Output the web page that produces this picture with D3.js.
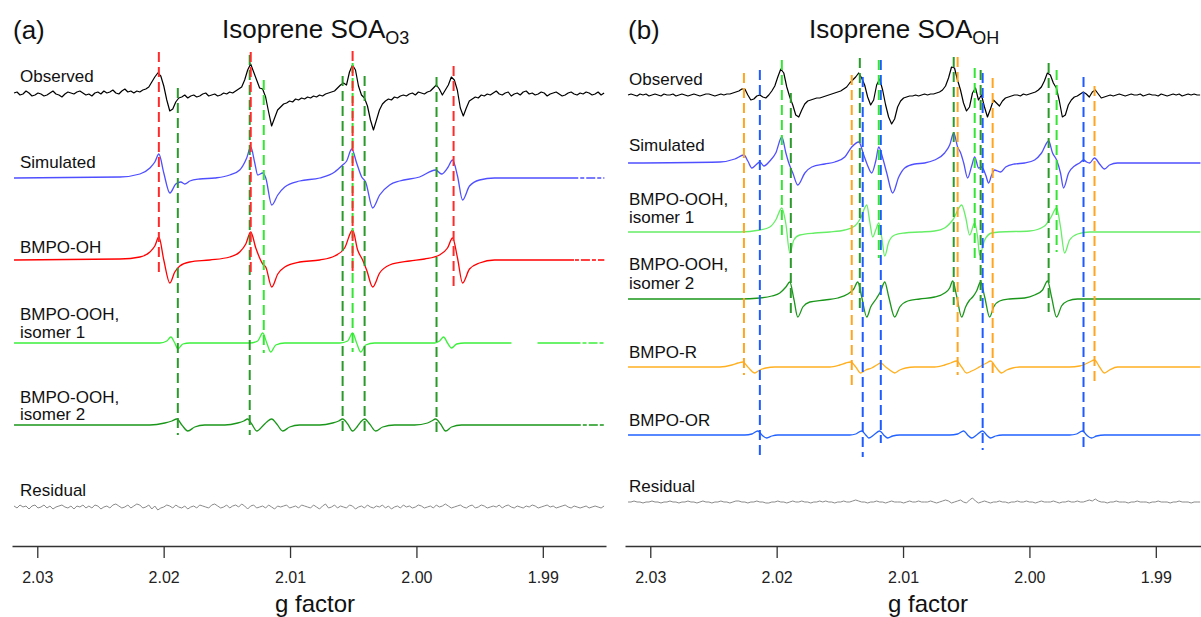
<!DOCTYPE html>
<html lang="en">
<head>
<meta charset="utf-8">
<title>Isoprene SOA EPR spectra</title>
<style>
  body { margin: 0; background: #fff; }
  svg text { font-family: "Liberation Sans", Arial, sans-serif; fill: #111; }
  .axis path, .axis line { stroke: #333; stroke-width: 1.3; }
  .axis text { font-size: 16px; fill: #222; }
  .trace-label { font-size: 17px; }
  .tag, .title { font-size: 26px; }
  .xlabel { font-size: 24px; }
</style>
</head>
<body>
<svg id="chart" width="1201" height="617"></svg>
<script src="https://cdnjs.cloudflare.com/ajax/libs/d3/7.8.5/d3.min.js"></script>
<script>
// ---------- data (g factor, intensity in a.u.) ----------
var gTicks = [2.03, 2.02, 2.01, 2.00, 1.99];
var gSpan = [2.032, 1.985];
var sampleStep = -0.000237;   // g step of the recorded spectra

// panel (a): recorded spectrum and residual, uniformly sampled from g0
var obsA_g0 = 2.03184;
var obsA = [
  1,2,-1,0,3,1,-2,-1,1,0,
  -2,-1,1,3,0,-1,-3,0,2,1,
  0,2,3,1,-1,0,-2,1,2,0,
  3,1,2,4,1,0,3,5,2,3,
  1,3,2,4,5,7,12,17,21,18,
  8,-6,-17,-15,-8,-4,-3,-1,-4,-2,
  -1,-3,-2,0,1,-2,-1,0,-2,-1,
  1,0,2,1,3,5,7,14,24,30,
  22,14,6,5,-3,-18,-32,-24,-16,-13,
  -10,-9,-7,-8,-5,-6,-4,-5,-3,-4,
  -2,-3,-1,-2,0,1,2,3,6,9,
  11,9,22,29,24,8,-1,-4,-12,-26,
  -36,-26,-16,-10,-7,-5,-6,-3,-4,-2,
  -1,-2,0,1,-1,2,1,0,2,3,
  6,9,5,-1,4,9,17,14,4,-14,
  -22,-14,-7,-5,-3,-4,-1,-2,0,-1,
  1,3,0,-1,1,2,-2,0,1,-1,
  2,3,0,1,-1,0,2,1,-2,0,
  1,2,0,-2,-1,1,2,0,-1,1,
  0,2,1,-1,0,2,-1,1
];
var resA = [
  1,-1,2,0,1,-2,1,2,-1,0,
  2,-1,1,-2,0,1,2,0,-1,1,
  -2,1,0,2,-1,1,-1,2,1,-2,
  0,1,-1,2,3,1,-1,0,2,-1,
  1,3,2,-1,0,2,-2,1,-3,-1,
  0,2,1,-1,2,0,-1,1,-2,0,
  1,-1,2,1,0,-1,2,3,1,-1,
  0,2,-1,1,2,0,3,1,-2,1,
  2,-1,0,1,-1,2,0,-2,1,0,
  1,2,-1,0,1,-1,2,1,0,-1,
  2,0,-2,1,3,-1,0,2,-1,1,
  0,-1,2,1,-2,0,1,-1,2,0,
  -1,1,0,2,-1,1,-2,0,1,-1,
  2,0,1,-1,0,2,1,-1,0,1,
  -1,2,0,1,3,1,-1,0,1,2,
  0,-1,1,2,-1,0,2,1,-1,0,
  1,0,2,-1,1,2,0,-1,1,0,
  -1,1,0,2,1,-1,0,1,2,0,
  1,-1,0,1,2,0,-1,1,0,-1,
  0,1,-1,0,1,0,-1,1
];

// panel (a): simulated spectrum and its components, [g, intensity]
var simA = [[2.03184,0],[2.02346,1],[2.02188,4],[2.02109,10],[2.02070,16],[2.02038,24],[2.01999,5],[2.01951,-15],[2.01904,-6],[2.01864,-4],[2.01833,-6],[2.01793,-3],[2.01714,-1],[2.01595,0],[2.01477,3],[2.01398,8],[2.01343,20],[2.01311,31],[2.01279,15],[2.01256,3],[2.01216,5],[2.01192,0],[2.01145,-27],[2.01097,-17],[2.01042,-9],[2.00924,-3],[2.00765,0],[2.00647,6],[2.00584,13],[2.00552,17],[2.00512,29],[2.00473,15],[2.00433,1],[2.00402,-4],[2.00346,-30],[2.00291,-17],[2.00212,-7],[2.00133,-3],[1.99975,1],[1.99848,8],[1.99801,4],[1.99754,10],[1.99714,18],[1.99675,2],[1.99635,-22],[1.99580,-8],[1.99501,-2],[1.99382,0],[1.98513,0]];
var ohA = [[2.03184,0],[2.02346,1],[2.02188,3],[2.02109,8],[2.02070,14],[2.02038,23],[2.01999,0],[2.01951,-23],[2.01912,-12],[2.01872,-6],[2.01793,-2],[2.01635,0],[2.01477,3],[2.01398,8],[2.01350,16],[2.01311,28],[2.01271,12],[2.01216,-4],[2.01192,-7],[2.01145,-27],[2.01097,-14],[2.01042,-7],[2.00924,-2],[2.00765,0],[2.00647,4],[2.00568,12],[2.00505,30],[2.00465,10],[2.00426,0],[2.00394,-10],[2.00346,-27],[2.00291,-13],[2.00212,-5],[2.00054,-1],[1.99935,1],[1.99817,5],[1.99754,12],[1.99714,22],[1.99675,2],[1.99635,-23],[1.99580,-9],[1.99501,-3],[1.99382,0],[1.98513,0]];
var ooh1A = [[2.03184,0],[2.02030,0],[2.01975,2],[2.01943,6],[2.01912,0],[2.01888,-6],[2.01848,-1],[2.01793,0],[2.01319,0],[2.01256,2],[2.01216,10],[2.01184,0],[2.01153,-9],[2.01113,-2],[2.01042,0],[2.00607,0],[2.00544,2],[2.00505,10],[2.00473,0],[2.00441,-9],[2.00402,-2],[2.00331,0],[1.99856,0],[1.99817,2],[1.99785,6],[1.99754,0],[1.99722,-5],[1.99682,-1],[1.99619,0],[1.99248,0],[1.99150,0],[1.99042,0],[1.98513,0]];
var ooh2A = [[2.03184,0],[2.02109,0],[2.01991,2],[2.01935,4],[2.01896,6],[2.01856,0],[2.01809,-6],[2.01754,-2],[2.01675,0],[2.01516,0],[2.01414,2],[2.01366,4],[2.01335,6],[2.01303,1],[2.01263,-6],[2.01216,-1],[2.01184,3],[2.01145,6],[2.01105,1],[2.01058,-6],[2.01003,-2],[2.00924,0],[2.00765,0],[2.00663,2],[2.00615,4],[2.00584,6],[2.00544,1],[2.00505,-6],[2.00465,-1],[2.00441,3],[2.00410,6],[2.00370,1],[2.00323,-6],[2.00267,-2],[2.00173,0],[2.00014,0],[1.99912,2],[1.99880,4],[1.99848,6],[1.99809,1],[1.99769,-6],[1.99722,-2],[1.99643,0],[1.98513,0]];

// panel (a): line positions marked by dashes [g, species]
var markersA = [
  [2.01888,"OOH2"],[2.01319,"OOH2"],[2.00584,"OOH2"],[2.00410,"OOH2"],[1.99841,"OOH2"],
  [2.01208,"OOH1"],[2.00505,"OOH1"],
  [2.02038,"OH"],[2.01311,"OH"],[2.00505,"OH"],[1.99706,"OH"]
];

// panel (b)
var obsB_g0 = 2.03176;
var obsB = [
  0,1,0,-1,1,0,1,-1,0,1,
  0,-1,1,0,0,1,-1,0,1,0,
  -1,0,1,0,-1,0,1,1,0,-1,
  0,1,0,1,1,2,3,4,6,6,
  0,-5,-4,-1,0,-2,-3,0,4,9,
  18,26,22,8,-2,-10,-20,-22,-15,-9,
  -6,-5,-4,-3,-3,-2,-1,0,1,2,
  3,4,6,8,12,15,18,22,17,10,
  -2,-10,-5,10,16,5,-10,-22,-29,-24,
  -12,-6,-3,-2,-1,-1,0,-1,0,1,
  0,1,1,2,3,5,9,17,28,27,
  15,5,-8,-16,-12,2,7,-5,0,-12,
  -22,-14,-5,-8,-11,-6,-3,-2,-1,0,
  0,-1,1,0,1,2,3,5,8,14,
  22,20,12,7,-6,-22,-20,-10,-5,-2,
  -1,1,3,1,-2,3,5,1,-3,-2,
  -1,0,-1,0,1,0,-1,0,1,0,
  0,1,-1,0,1,0,0,-1,1,0,
  -1,0,1,0,1,-1,0,1,0,1,
  0,0
];
var resB = [
  0,0,1,0,0,-1,0,0,1,0,
  0,-1,0,0,1,0,0,-1,0,0,
  1,0,0,-1,0,1,0,0,-1,0,
  0,1,0,0,-1,0,1,1,0,0,
  -1,0,0,1,0,0,-1,-1,0,0,
  1,0,0,-1,0,1,0,0,1,0,
  0,-1,0,0,1,0,1,0,0,-1,
  0,0,1,0,0,1,2,1,0,0,
  -1,0,0,1,0,0,-1,0,1,0,
  0,0,-1,0,1,0,0,1,0,0,
  0,1,0,-1,0,1,2,1,-1,0,
  1,2,0,-1,2,4,1,-1,0,1,
  0,-1,0,0,1,0,0,-1,0,0,
  1,0,0,1,0,0,-1,0,1,0,
  0,0,1,0,-1,0,0,1,0,0,
  1,0,0,1,2,1,3,1,0,0,
  -1,0,0,1,0,0,0,-1,0,0,
  1,0,0,0,-1,0,0,1,0,0,
  0,-1,0,0,1,0,0,0,-1,0,
  0,0
];
var simB = [[2.03176,0],[2.02449,1],[2.02331,4],[2.02259,8],[2.02228,2],[2.02196,-5],[2.02165,-2],[2.02133,1],[2.02101,-3],[2.02054,2],[2.02007,10],[2.01959,26],[2.01927,10],[2.01904,0],[2.01872,-10],[2.01833,-22],[2.01777,-10],[2.01722,-4],[2.01619,-1],[2.01540,1],[2.01461,6],[2.01406,16],[2.01350,21],[2.01311,8],[2.01279,-3],[2.01248,-10],[2.01216,2],[2.01192,16],[2.01161,5],[2.01129,-10],[2.01082,-30],[2.01034,-14],[2.00987,-5],[2.00908,-1],[2.00829,0],[2.00750,3],[2.00671,10],[2.00631,18],[2.00599,30],[2.00568,16],[2.00544,10],[2.00520,0],[2.00489,-15],[2.00457,-3],[2.00433,6],[2.00402,-5],[2.00378,-4],[2.00346,-12],[2.00323,-20],[2.00299,-12],[2.00275,-7],[2.00252,-8],[2.00228,-9],[2.00188,-4],[2.00117,-1],[2.00038,0],[1.99959,3],[1.99904,10],[1.99848,22],[1.99817,10],[1.99785,3],[1.99754,-10],[1.99730,-25],[1.99690,-10],[1.99643,-3],[1.99603,0],[1.99572,3],[1.99548,1],[1.99524,0],[1.99485,5],[1.99445,-1],[1.99406,-6],[1.99366,-2],[1.99303,0],[1.98647,0]];
var ooh1B = [[2.03176,0],[2.02291,0],[2.02133,2],[2.02054,5],[2.02007,12],[2.01959,24],[2.01927,8],[2.01896,-21],[2.01864,-8],[2.01817,-3],[2.01698,-1],[2.01580,0],[2.01461,2],[2.01382,6],[2.01335,14],[2.01287,27],[2.01263,10],[2.01240,-5],[2.01216,2],[2.01192,9],[2.01169,-5],[2.01145,-24],[2.01113,-10],[2.01066,-3],[2.00987,-1],[2.00868,0],[2.00750,1],[2.00671,4],[2.00607,12],[2.00536,27],[2.00505,15],[2.00473,-3],[2.00433,9],[2.00410,-5],[2.00394,-23],[2.00354,-8],[2.00299,-1],[2.00236,0],[1.99999,1],[1.99880,6],[1.99833,14],[1.99785,24],[1.99754,5],[1.99722,-21],[1.99682,-8],[1.99619,-2],[1.99524,0],[1.98647,0]];
var ooh2B = [[2.03176,0],[2.02291,0],[2.02133,1],[2.02038,3],[2.01975,6],[2.01927,12],[2.01896,17],[2.01864,0],[2.01833,-18],[2.01793,-8],[2.01738,-3],[2.01619,-1],[2.01516,1],[2.01437,5],[2.01390,10],[2.01358,17],[2.01327,2],[2.01287,-18],[2.01256,-8],[2.01208,1],[2.01176,8],[2.01145,17],[2.01113,2],[2.01066,-18],[2.01026,-8],[2.00963,-2],[2.00868,0],[2.00750,2],[2.00671,6],[2.00631,11],[2.00607,18],[2.00576,3],[2.00536,-18],[2.00505,-8],[2.00473,-1],[2.00449,2],[2.00418,8],[2.00386,17],[2.00354,2],[2.00315,-18],[2.00283,-8],[2.00236,-2],[2.00157,0],[2.00038,1],[1.99959,4],[1.99896,9],[1.99856,18],[1.99825,2],[1.99785,-18],[1.99746,-7],[1.99698,-2],[1.99619,0],[1.98647,0]];
var rB = [[2.03176,0],[2.02449,0],[2.02354,2],[2.02307,4],[2.02267,5],[2.02228,0],[2.02172,-6],[2.02133,-3],[2.02086,-1],[2.02014,0],[2.01580,0],[2.01501,2],[2.01453,4],[2.01414,5],[2.01374,0],[2.01335,-6],[2.01295,-3],[2.01248,-1],[2.01208,2],[2.01176,4],[2.01137,0],[2.01105,-3],[2.01066,-6],[2.01026,-3],[2.00979,-1],[2.00908,0],[2.00750,0],[2.00671,2],[2.00623,4],[2.00576,6],[2.00536,0],[2.00497,-6],[2.00457,-4],[2.00410,-1],[2.00370,2],[2.00339,4],[2.00307,6],[2.00267,0],[2.00220,-6],[2.00180,-3],[2.00133,-1],[2.00078,0],[1.99682,0],[1.99603,1],[1.99572,2],[1.99524,5],[1.99485,7],[1.99445,0],[1.99406,-6],[1.99366,-3],[1.99303,0],[1.98647,0]];
var orB = [[2.03176,0],[2.02252,0],[2.02196,1],[2.02149,4],[2.02117,0],[2.02078,-3],[2.02038,-1],[2.01991,0],[2.01422,0],[2.01374,1],[2.01327,4],[2.01295,0],[2.01271,-3],[2.01232,0],[2.01184,4],[2.01153,0],[2.01121,-3],[2.01082,-1],[2.01026,0],[2.00631,0],[2.00568,1],[2.00520,4],[2.00489,0],[2.00457,-3],[2.00418,0],[2.00370,4],[2.00339,0],[2.00307,-3],[2.00267,-1],[2.00212,0],[1.99682,0],[1.99627,1],[1.99580,4],[1.99548,0],[1.99509,-3],[1.99469,-1],[1.99406,0],[1.98647,0]];

var markersB = [
  [2.02259,"R"],[2.01406,"R"],[2.00568,"R"],[2.00291,"R"],[1.99485,"R"],
  [2.02133,"OR"],[2.01319,"OR"],[2.01176,"OR"],[2.00370,"OR"],[1.99572,"OR"],
  [2.01888,"OOH2"],[2.01342,"OOH2"],[2.00599,"OOH2"],[2.00386,"OOH2"],[1.99848,"OOH2"],
  [2.01959,"OOH1"],[2.01192,"OOH1"],[2.00433,"OOH1"],[1.99785,"OOH1"]
];

// ---------- layout ----------
// how far each dashed marker reaches: [top trace, level, bottom trace, level]
var spansA = [
  [0,6,4,-10],[0,39,4,-10],[0,18,4,-8],[0,18,4,-8],[0,17,4,-8],
  [0,14,3,-10],[0,31,3,-9],
  [0,42,2,-15],[0,42,2,-15],[0,43,2,-15],[0,28,2,-29]
];
var spansB = [
  [0,22,4,-8],[0,20,4,-21],[0,38,4,-8],[0,17,4,-10],[0,9,4,-16],
  [0,25,5,-23],[0,18,5,-22],[0,35,5,-8],[0,22,5,-15],[0,18,5,-17],
  [0,2,3,-16],[0,37,3,-11],[0,38,3,-6],[0,25,3,-2],[0,32,3,-13],
  [0,35,2,-4],[0,35,2,-26],[0,27,2,-26],[0,25,2,-20]
];
var dashColor = { OH: "#ff2b2b", OOH1: "#33e633", OOH2: "#2a9a2a", R: "#ffa51f", OR: "#1f5cff" };

var svg = d3.select("#chart");
var axisY = 546;
var yI = d3.scaleLinear().domain([0, 10]).range([0, -10]);

// the right end of the panel (a) fits fades into a broken line
var defs = svg.append("defs");
defs.append("clipPath").attr("id", "solidA").append("rect")
  .attr("x", 0).attr("y", 0).attr("width", 574).attr("height", 617);
defs.append("clipPath").attr("id", "tailA").append("rect")
  .attr("x", 574).attr("y", 0).attr("width", 40).attr("height", 617);

function sampled(g0, vals) {
  return vals.map(function(v, i) { return [g0 + i * sampleStep, v]; });
}

var panels = [
  {
    x: d3.scaleLinear().domain(gSpan).range([12, 606]),
    tag: "(a)", tagX: 13, titleX: 222, sub: "O3", labelX: 20, xlabelX: 315,
    markers: markersA, spans: spansA,
    traces: [
      { name: ["Observed"], ly: [82], base: 94, data: sampled(obsA_g0, obsA), color: "#000", w: 1.2, raw: true },
      { name: ["Simulated"], ly: [168], base: 178, data: simA, color: "#4f4fff", tail: true },
      { name: ["BMPO-OH"], ly: [253], base: 260, data: ohA, color: "#ff0000", tail: true },
      { name: ["BMPO-OOH,", "isomer 1"], ly: [320, 338], base: 343, data: ooh1A, color: "#3cf03c", gap: [1.99248, 1.99042], tail: true },
      { name: ["BMPO-OOH,", "isomer 2"], ly: [403, 420], base: 425, data: ooh2A, color: "#1a961a", tail: true },
      { name: ["Residual"], ly: [496], base: 507, data: sampled(obsA_g0, resA), color: "#8a8a8a", w: 1, raw: true }
    ]
  },
  {
    x: d3.scaleLinear().domain(gSpan).range([625, 1219]),
    tag: "(b)", tagX: 628, titleX: 809, sub: "OH", labelX: 629, xlabelX: 928,
    markers: markersB, spans: spansB,
    traces: [
      { name: ["Observed"], ly: [85], base: 95, data: sampled(obsB_g0, obsB), color: "#000", w: 1.2, raw: true },
      { name: ["Simulated"], ly: [151], base: 163, data: simB, color: "#4f4fff" },
      { name: ["BMPO-OOH,", "isomer 1"], ly: [205, 223], base: 232, data: ooh1B, color: "#66ee66" },
      { name: ["BMPO-OOH,", "isomer 2"], ly: [270, 289], base: 299, data: ooh2B, color: "#1a961a" },
      { name: ["BMPO-R"], ly: [358], base: 367, data: rB, color: "#ffb020" },
      { name: ["BMPO-OR"], ly: [426], base: 435, data: orB, color: "#2262ff" },
      { name: ["Residual"], ly: [492], base: 502, data: sampled(obsB_g0, resB), color: "#8a8a8a", w: 1, raw: true }
    ]
  }
];

panels.forEach(function(p) {
  var g = svg.append("g");

  g.append("text").attr("class", "tag").attr("x", p.tagX).attr("y", 39).text(p.tag);
  var title = g.append("text").attr("class", "title").attr("x", p.titleX).attr("y", 38);
  title.append("tspan").text("Isoprene SOA");
  title.append("tspan").attr("dy", 6).style("font-size", "18px").text(p.sub);

  g.append("g")
    .attr("class", "axis")
    .attr("transform", "translate(0," + axisY + ")")
    .call(d3.axisBottom(p.x).tickValues(gTicks).tickFormat(d3.format(".2f"))
      .tickSize(12).tickSizeOuter(0).tickPadding(14));

  g.append("text").attr("class", "xlabel")
    .attr("x", p.xlabelX).attr("y", 612)
    .style("text-anchor", "middle")
    .text("g factor");

  p.traces.forEach(function(t) {
    var line = d3.line()
      .x(function(d) { return p.x(d[0]); })
      .y(function(d) { return t.base + yI(d[1]); })
      .curve(t.raw ? d3.curveLinear : d3.curveMonotoneX);
    if (t.gap) line.defined(function(d) { return !(d[0] < t.gap[0] && d[0] > t.gap[1]); });

    var path = g.append("path")
      .datum(t.data)
      .attr("d", line)
      .attr("fill", "none")
      .attr("stroke", t.color)
      .attr("stroke-width", t.w || 1.3)
      .attr("stroke-linejoin", "round");

    if (t.tail) {
      path.attr("clip-path", "url(#solidA)");
      g.append("path")
        .datum(t.data)
        .attr("d", line)
        .attr("fill", "none")
        .attr("stroke", t.color)
        .attr("stroke-width", t.w || 1.3)
        .attr("stroke-dasharray", "9,2,4,2")
        .attr("clip-path", "url(#tailA)");
    }

    t.name.forEach(function(s, i) {
      g.append("text").attr("class", "trace-label")
        .attr("x", p.labelX).attr("y", t.ly[i]).text(s);
    });
  });

  // dashed line markers
  p.markers.forEach(function(m, i) {
    var s = p.spans[i];
    g.append("line")
      .attr("x1", p.x(m[0])).attr("x2", p.x(m[0]))
      .attr("y1", p.traces[s[0]].base + yI(s[1]))
      .attr("y2", p.traces[s[2]].base + yI(s[3]))
      .attr("stroke", dashColor[m[1]])
      .attr("stroke-width", 2)
      .attr("stroke-dasharray", "10,5");
  });
});
</script>
</body>
</html>
